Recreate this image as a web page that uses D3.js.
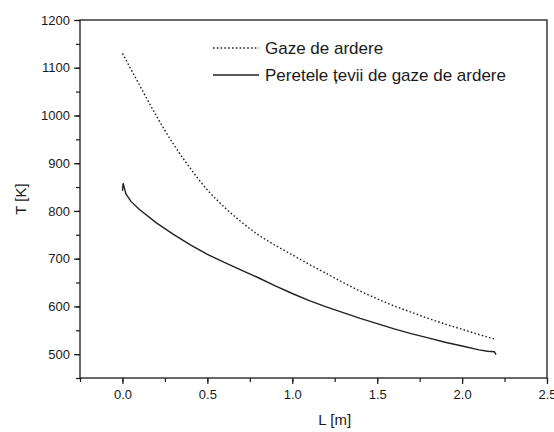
<!DOCTYPE html>
<html>
<head>
<meta charset="utf-8">
<script src="https://cdn.jsdelivr.net/npm/d3@7"></script>
<style>
  body { margin: 0; background: #fff; }
  text { font-family: "Liberation Sans", Arial, sans-serif; fill: #1a1a1a; }
</style>
</head>
<body>
<svg id="chart" width="554" height="432"></svg>
<script>
// gas temperature along the tube (L in m, T in K)
const gasL = [0, 0.1, 0.2, 0.3, 0.4, 0.5, 0.6, 0.7, 0.8, 0.9, 1.0, 1.1, 1.2, 1.3, 1.4, 1.5, 1.6, 1.7, 1.8, 1.9, 2.0, 2.1, 2.2];
const gasT = [1130, 1064, 999, 940, 889, 844, 808, 777, 750, 728, 708, 688, 669, 650, 632, 616, 601, 588, 575, 563, 552, 541, 531];

// tube wall temperature
const wallL = [0, 0.004, 0.02, 0.05, 0.1, 0.2, 0.3, 0.4, 0.5, 0.6, 0.7, 0.8, 0.9, 1.0, 1.1, 1.2, 1.3, 1.4, 1.5, 1.6, 1.7, 1.8, 1.9, 2.0, 2.1, 2.15, 2.19, 2.2];
const wallT = [842, 858, 836, 820, 803, 775, 751, 729, 709, 692, 676, 660, 643, 627, 612, 599, 587, 575, 564, 553, 543, 534, 525, 517, 509, 506, 505, 499];

const xTicks = [0, 0.5, 1.0, 1.5, 2.0, 2.5];
const yTicks = [500, 600, 700, 800, 900, 1000, 1100, 1200];
const seriesNames = ["Gaze de ardere", "Peretele țevii de gaze de ardere"];

let margin = {top: 20, right: 7, bottom: 54, left: 80};
let width = 554 - margin.left - margin.right;
let height = 432 - margin.top - margin.bottom;

let svg = d3.select("#chart")
    .append("g")
    .attr("transform", `translate(${margin.left}, ${margin.top})`);

let x = d3.scaleLinear()
    .domain([-0.25, 2.5])
    .range([0, width]);

let y = d3.scaleLinear()
    .domain([450, 1200])
    .range([height, 0]);

// frame
svg.append("rect")
    .attr("x", 0).attr("y", 0)
    .attr("width", width).attr("height", height)
    .attr("fill", "none")
    .attr("stroke", "#1a1a1a")
    .attr("stroke-width", 1.3);

// minor ticks
let xMinor = d3.range(-0.25, 2.51, 0.25);
let yMinor = d3.range(450, 1201, 50);

svg.append("g")
    .attr("transform", `translate(0,${height})`)
    .call(d3.axisBottom(x).tickValues(xMinor).tickSize(4).tickFormat(""))
    .call(g => g.select(".domain").remove());

svg.append("g")
    .call(d3.axisLeft(y).tickValues(yMinor).tickSize(4).tickFormat(""))
    .call(g => g.select(".domain").remove());

// major axes
svg.append("g")
    .attr("class", "x axis")
    .attr("transform", `translate(0,${height})`)
    .call(d3.axisBottom(x).tickValues(xTicks).tickSize(6).tickPadding(6).tickFormat(d3.format(".1f")))
    .call(g => g.select(".domain").remove());

svg.append("g")
    .attr("class", "y axis")
    .call(d3.axisLeft(y).tickValues(yTicks).tickSize(6).tickPadding(4).tickFormat(d3.format("d")))
    .call(g => g.select(".domain").remove());

svg.selectAll(".tick line").attr("stroke", "#1a1a1a").attr("stroke-width", 1.2);
svg.selectAll(".axis text").style("font-size", "13px").attr("fill", "#1a1a1a");

// axis titles
svg.append("text")
    .attr("x", x(1.25))
    .attr("y", height + 47)
    .attr("text-anchor", "middle")
    .style("font-size", "15px")
    .text("L [m]");

svg.append("text")
    .attr("transform", `translate(-54, ${y(825)}) rotate(-90)`)
    .attr("text-anchor", "middle")
    .style("font-size", "15px")
    .text("T [K]");

// lines
let gasData = gasL.map((d, i) => ({L: d, T: gasT[i]}));
let wallData = wallL.map((d, i) => ({L: d, T: wallT[i]}));

let line = d3.line()
    .x(d => x(d.L))
    .y(d => y(d.T))
    .curve(d3.curveMonotoneX);

svg.append("path")
    .datum(gasData)
    .attr("d", line)
    .attr("fill", "none")
    .attr("stroke", "#222")
    .attr("stroke-width", 1.4)
    .attr("stroke-dasharray", "1.6,2.2");

svg.append("path")
    .datum(wallData)
    .attr("d", d3.line().x(d => x(d.L)).y(d => y(d.T)))
    .attr("fill", "none")
    .attr("stroke", "#222")
    .attr("stroke-width", 1.4);

// legend
let legend = svg.append("g")
    .attr("transform", "translate(133, 28)");

legend.selectAll("line")
    .data(seriesNames)
    .join("line")
    .attr("x1", 0)
    .attr("x2", 46)
    .attr("y1", (d, i) => i * 27)
    .attr("y2", (d, i) => i * 27)
    .attr("stroke", "#222")
    .attr("stroke-width", 1.4)
    .attr("stroke-dasharray", (d, i) => i == 0 ? "1.6,2.2" : null);

legend.selectAll("text")
    .data(seriesNames)
    .join("text")
    .attr("x", 52)
    .attr("y", (d, i) => i * 27 + 6)
    .style("font-size", "17px")
    .text(d => d);
</script>
</body>
</html>
